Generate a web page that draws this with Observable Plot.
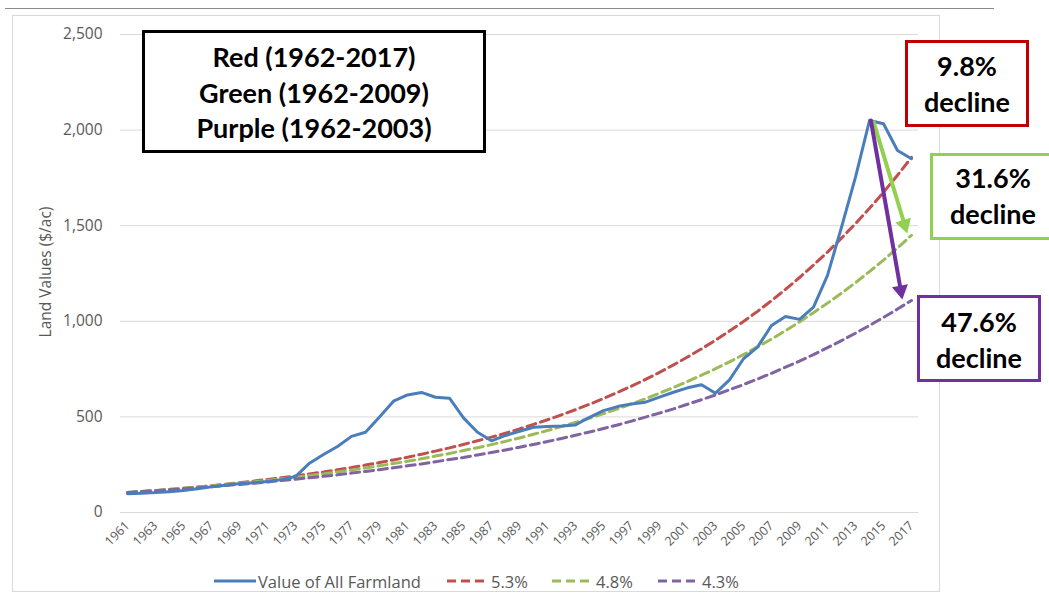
<!DOCTYPE html>
<html>
<head>
<meta charset="utf-8">
<script src="https://cdn.jsdelivr.net/npm/d3@7"></script>
<script src="https://cdn.jsdelivr.net/npm/@observablehq/plot@0.6"></script>
<style>
  body { margin: 0; background: #fff; }
  #wrap { position: relative; width: 1049px; height: 601px; overflow: hidden; font-family: "Open Sans", sans-serif; }
  #wrap svg.plot { position: absolute; left: 0; top: 0; }
  .topline { position: absolute; left: 5px; top: 8px; width: 989px; height: 0; border-top: 1.5px solid #8a8a8a; }
  .frame { position: absolute; left: 12px; top: 15px; width: 928px; height: 577px; border: 1px solid #d9d9d9; box-sizing: border-box; }
  .box { position: absolute; box-sizing: border-box; background: #fff; font-family: Lato, sans-serif; font-weight: 700; color: #000; text-align: center; line-height: 35.5px; font-size: 27px; }
  .ylab { position: absolute; left: 45px; top: 272px; transform: translate(-50%, -50%) rotate(-90deg); font-size: 15.5px; color: #595959; white-space: nowrap; }
  .legend { position: absolute; top: 570px; left: 0; width: 1049px; height: 22px; font-size: 16.5px; color: #595959; }
  .legend .item { position: absolute; top: 0; display: flex; align-items: center; height: 22px; }
  .legend svg { display: block; margin-right: 2px; }
</style>
</head>
<body>
<div id="wrap"></div>
<script>
// ---- data ----
const years = [1961,1962,1963,1964,1965,1966,1967,1968,1969,1970,1971,1972,1973,1974,1975,1976,1977,1978,1979,1980,1981,1982,1983,1984,1985,1986,1987,1988,1989,1990,1991,1992,1993,1994,1995,1996,1997,1998,1999,2000,2001,2002,2003,2004,2005,2006,2007,2008,2009,2010,2011,2012,2013,2014,2015,2016,2017];
const farmland = [98,101,104,109,115,124,134,143,151,156,162,172,188,258,303,345,398,420,500,582,615,628,603,598,495,420,375,403,425,446,450,453,458,498,533,554,568,577,603,629,652,668,624,694,804,865,978,1025,1010,1074,1240,1492,1754,2050,2033,1893,1850];
const rate53 = [103,108,114,120,127,133,140,148,156,164,173,182,191,202,212,224,235,248,261,275,289,305,321,338,356,375,394,415,437,461,485,511,538,566,596,628,661,696,733,772,813,856,901,949,999,1052,1108,1167,1229,1294,1362,1435,1511,1591,1675,1764,1857];
const rate48 = [105,110,115,121,127,133,139,146,153,160,168,176,184,193,202,212,222,233,244,256,268,281,295,309,324,339,355,372,390,409,429,449,471,493,517,542,568,595,624,654,685,718,752,788,826,866,907,951,997,1045,1095,1147,1202,1260,1320,1384,1450];
const rate43 = [105,110,114,119,124,130,135,141,147,153,160,167,174,182,189,197,206,215,224,234,244,254,265,277,288,301,314,327,341,356,371,387,404,421,439,458,478,499,520,542,566,590,615,642,669,698,728,760,792,826,862,899,938,978,1020,1064,1109];
const xTicks = [1961,1963,1965,1967,1969,1971,1973,1975,1977,1979,1981,1983,1985,1987,1989,1991,1993,1995,1997,1999,2001,2003,2005,2007,2009,2011,2013,2015,2017];
const yTicks = [0,500,1000,1500,2000,2500];
const seriesNames = ["Value of All Farmland","5.3%","4.8%","4.3%"];
const seriesColors = ["#4a7ebb","#c0504d","#9bbb59","#8064a2"];
// decline arrows (from the 2014 peak to the trend-line ends)
const arrowFromX = [2014.3, 2014.1];
const arrowFromY = [2040, 2050];
const arrowToX = [2016.7, 2016.35];
const arrowToY = [1459, 1114];
const arrowHeadX = [2016.5, 2016.23];
const arrowHeadY = [1506, 1162];
const arrowHeadAngle = [163, 170];
const arrowColors = ["#92d050", "#7030a0"];
// annotation boxes
const boxTexts = [["Red (1962-2017)","Green (1962-2009)","Purple (1962-2003)"],["9.8%","decline"],["31.6%","decline"],["47.6%","decline"]];
const boxColors = ["#000000","#c00000","#92d050","#7030a0"];

// ---- build ----
const rows = (vals) => years.map((y, i) => ({year: y, value: vals[i]}));
const idx = arrowFromX.map((_, i) => i);

const chart = Plot.plot({
  width: 1049,
  height: 601,
  marginLeft: 120,
  marginRight: 131,
  marginTop: 34,
  marginBottom: 89,
  style: {background: "transparent", fontFamily: "Open Sans, sans-serif"},
  x: {domain: [1960.5, 2017.5], label: null},
  y: {domain: [0, 2500], label: null},
  marks: [
    Plot.ruleY(yTicks, {stroke: "#d9d9d9", strokeWidth: 1}),
    Plot.axisY({ticks: yTicks, tickSize: 0, tickPadding: 18, tickFormat: d3.format(","), fontSize: 15.5, fill: "#595959", label: null}),
    Plot.axisX({ticks: xTicks, tickSize: 0, tickPadding: 11, tickRotate: -45, tickFormat: d => String(d), fontSize: 12.5, fill: "#595959", label: null}),
    Plot.line(rows(rate53), {x: "year", y: "value", stroke: seriesColors[1], strokeWidth: 3, strokeDasharray: "9,5"}),
    Plot.line(rows(rate48), {x: "year", y: "value", stroke: seriesColors[2], strokeWidth: 3, strokeDasharray: "9,5"}),
    Plot.line(rows(rate43), {x: "year", y: "value", stroke: seriesColors[3], strokeWidth: 3, strokeDasharray: "9,5"}),
    Plot.line(rows(farmland), {x: "year", y: "value", stroke: seriesColors[0], strokeWidth: 3, strokeLinejoin: "round"}),
    Plot.arrow(idx, {x1: i => arrowFromX[i], y1: i => arrowFromY[i], x2: i => arrowToX[i], y2: i => arrowToY[i], stroke: i => arrowColors[i], strokeWidth: 4, headLength: 0, insetEnd: 10}),
    Plot.dot(idx, {x: i => arrowHeadX[i], y: i => arrowHeadY[i], symbol: "triangle", r: 6, fill: i => arrowColors[i], stroke: "none", rotate: i => arrowHeadAngle[i]})
  ]
});

const wrap = document.getElementById("wrap");
wrap.insertAdjacentHTML("beforeend", '<div class="topline"></div><div class="frame"></div>');
wrap.appendChild(chart);

const ylab = document.createElement("div");
ylab.className = "ylab";
ylab.textContent = "Land Values ($/ac)";
wrap.appendChild(ylab);

// annotation boxes
const boxGeom = [
  {left: 142, top: 30, width: 344, height: 123, pad: 6, bw: 3.5},
  {left: 905, top: 40, width: 124, height: 87, pad: 5, bw: 3},
  {left: 930, top: 153, width: 126, height: 87, pad: 4, bw: 3},
  {left: 917, top: 295, width: 124, height: 87, pad: 6, bw: 3}
];
boxTexts.forEach((lines, i) => {
  const g = boxGeom[i];
  const d = document.createElement("div");
  d.className = "box";
  Object.assign(d.style, {left: g.left + "px", top: g.top + "px", width: g.width + "px", height: g.height + "px", border: `${g.bw}px solid ${boxColors[i]}`, paddingTop: g.pad + "px"});
  lines.forEach(t => { const s = document.createElement("div"); s.textContent = t; d.appendChild(s); });
  wrap.appendChild(d);
});

// legend
const legend = document.createElement("div");
legend.className = "legend";
const legendX = [214, 447, 552, 658];
seriesNames.forEach((name, i) => {
  const item = document.createElement("div");
  item.className = "item";
  item.style.left = legendX[i] + "px";
  const dash = i === 0 ? "" : 'stroke-dasharray="9,5"';
  item.innerHTML = `<svg width="42" height="6"><line x1="0" y1="3" x2="42" y2="3" stroke="${seriesColors[i]}" stroke-width="3" ${dash}/></svg><span>${name}</span>`;
  legend.appendChild(item);
});
wrap.appendChild(legend);
</script>
</body>
</html>
